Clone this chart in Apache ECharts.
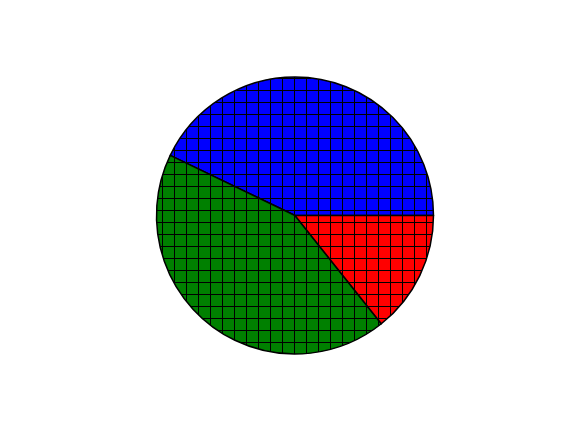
<!DOCTYPE html>
<html>
<head>
<meta charset="utf-8">
<script src="https://cdn.jsdelivr.net/npm/echarts@6/dist/echarts.min.js"></script>
<style>
html,body{margin:0;padding:0;background:#fff;}
#c{width:576px;height:432px;}
</style>
</head>
<body>
<div id="c"></div>
<script>
// Data
var categories = ['A', 'B', 'C'];
var values = [30, 30, 10];
var colors = ['#0000ff', '#008000', '#ff0000'];

function hatch(color) {
  var s = 12;
  var cv = document.createElement('canvas');
  cv.width = s; cv.height = s;
  var ctx = cv.getContext('2d');
  ctx.fillStyle = color;
  ctx.fillRect(0, 0, s, s);
  ctx.fillStyle = '#000000';
  ctx.fillRect(6, 0, 1, s);
  ctx.fillRect(0, 6, s, 1);
  return cv;
}

var data = categories.map(function (c, i) {
  return {
    name: c,
    value: values[i],
    itemStyle: { color: { image: hatch(colors[i]), repeat: 'repeat' } }
  };
});

var chart = echarts.init(document.getElementById('c'), null, { renderer: 'canvas' });
chart.setOption({
  animation: false,
  backgroundColor: '#ffffff',
  series: [{
    type: 'pie',
    center: [295, 215.5],
    radius: [0, 138.5],
    startAngle: 0,
    clockwise: false,
    silent: true,
    label: { show: false },
    labelLine: { show: false },
    emphasis: { disabled: true },
    itemStyle: { borderColor: '#000000', borderWidth: 1.5 },
    data: data
  }]
});
</script>
</body>
</html>
